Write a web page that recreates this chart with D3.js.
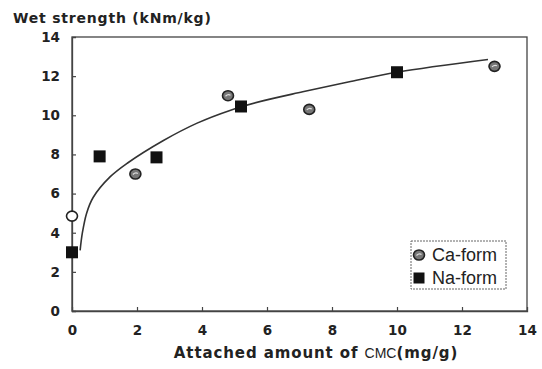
<!DOCTYPE html>
<html>
<head>
<meta charset="utf-8">
<script src="https://cdn.jsdelivr.net/npm/d3@7/dist/d3.min.js"></script>
<style>
  html, body { margin: 0; padding: 0; background: #fff; }
  svg { display: block; }
</style>
</head>
<body>
<svg id="chart" width="542" height="369"></svg>
<script>
// Wet strength vs. attached CMC, two counter-ion forms plus a trend curve
const xTicks = [0, 2, 4, 6, 8, 10, 12, 14];
const yTicks = [0, 2, 4, 6, 8, 10, 12, 14];

const caX = [0, 1.95, 4.8, 7.3, 13.0];
const caY = [4.85, 7.0, 11.0, 10.3, 12.5];
const caOpen = [true, false, false, false, false];

const naX = [0, 0.85, 2.6, 5.2, 10.0];
const naY = [3.0, 7.9, 7.85, 10.45, 12.2];

// trend curve traced point by point
const fitX = [0.25, 0.32, 0.45, 0.65, 1.17, 1.7, 2.8, 3.85, 4.86, 5.9, 7.1, 8.5, 10.0, 12.8];
const fitY = [3.1, 4.0, 5.0, 5.8, 6.85, 7.55, 8.7, 9.6, 10.25, 10.75, 11.2, 11.7, 12.2, 12.85];

const legendLabels = ["Ca-form", "Na-form"];

const svg = d3.select("#chart");
const m = { left: 72, right: 527, top: 37, bottom: 311 };

const x = d3.scaleLinear().domain([0, 14]).range([m.left, m.right]);
const y = d3.scaleLinear().domain([0, 14]).range([m.bottom, m.top]);

const ink = "#222";
const labelFont = "'DejaVu Sans', sans-serif";

// frame
svg.append("rect")
  .attr("x", m.left).attr("y", m.top)
  .attr("width", m.right - m.left).attr("height", m.bottom - m.top)
  .attr("fill", "none").attr("stroke", "#444").attr("stroke-width", 1.3);

// axes with inward ticks
const yAxis = d3.axisLeft(y).tickValues(yTicks).tickSize(-4).tickPadding(12).tickFormat(d3.format("d"));
const xAxis = d3.axisBottom(x).tickValues(xTicks).tickSize(-4).tickPadding(14).tickFormat(d3.format("d"));

const gy = svg.append("g").attr("transform", `translate(${m.left},0)`).call(yAxis);
const gx = svg.append("g").attr("transform", `translate(0,${m.bottom})`).call(xAxis);
[gx, gy].forEach(g => {
  g.select(".domain").attr("stroke", "#444").attr("stroke-width", 1.3);
  g.selectAll(".tick line").attr("stroke", "#444").attr("stroke-width", 1.2);
  g.selectAll(".tick text")
    .attr("fill", ink)
    .style("font-family", labelFont)
    .style("font-weight", "bold")
    .style("font-size", "13.5px");
});
gy.selectAll(".tick").filter(d => d === 0 || d === 14).select("line").remove();
gx.selectAll(".tick").filter(d => d === 0 || d === 14).select("line").remove();

// trend curve
const fit = fitX.map((v, i) => [v, fitY[i]]);
svg.append("path")
  .datum(fit)
  .attr("fill", "none")
  .attr("stroke", "#333")
  .attr("stroke-width", 1.6)
  .attr("d", d3.line().x(d => x(d[0])).y(d => y(d[1])).curve(d3.curveCatmullRom.alpha(0.5)));

// Na-form squares
const sq = 12;
svg.append("g").selectAll("rect")
  .data(naX.map((v, i) => [v, naY[i]]))
  .join("rect")
  .attr("x", d => x(d[0]) - sq / 2)
  .attr("y", d => y(d[1]) - sq / 2)
  .attr("width", sq).attr("height", sq)
  .attr("fill", "#111");

// Ca-form circles
function caMarker(g, cx, cy, open) {
  g.append("ellipse")
    .attr("cx", cx).attr("cy", cy).attr("rx", 5.5).attr("ry", 5)
    .attr("fill", open ? "#fff" : "#777")
    .attr("stroke", "#222").attr("stroke-width", 1.6);
  if (!open) {
    g.append("path")
      .attr("d", `M${cx - 2.5},${cy + 0.5} Q${cx},${cy - 2} ${cx + 2.5},${cy - 0.5}`)
      .attr("fill", "none").attr("stroke", "#ddd").attr("stroke-width", 1.2);
  }
}
const caG = svg.append("g");
caX.forEach((v, i) => caMarker(caG, x(v), y(caY[i]), caOpen[i]));

// legend
const lg = svg.append("g");
lg.append("rect")
  .attr("x", 411).attr("y", 241).attr("width", 95).attr("height", 48)
  .attr("fill", "#fff").attr("stroke", "#666").attr("stroke-width", 1)
  .attr("stroke-dasharray", "2,1");
caMarker(lg, 419, 255, false);
lg.append("rect").attr("x", 413.5).attr("y", 272.5).attr("width", 11).attr("height", 11).attr("fill", "#111");
legendLabels.forEach((t, i) => {
  lg.append("text")
    .attr("x", 432).attr("y", 261 + i * 23)
    .attr("fill", ink)
    .style("font-family", "'Liberation Sans', Arial, sans-serif")
    .style("font-size", "18px")
    .text(t);
});

// axis titles
svg.append("text")
  .attr("x", 13).attr("y", 23)
  .attr("fill", ink)
  .style("font-family", labelFont).style("font-weight", "bold").style("font-size", "14px")
  .style("letter-spacing", "0.8px")
  .text("Wet strength (kNm/kg)");

const xt = svg.append("text")
  .attr("x", 316).attr("y", 358).attr("text-anchor", "middle")
  .attr("fill", ink)
  .style("font-family", labelFont).style("font-weight", "bold").style("font-size", "15px")
  .style("letter-spacing", "0.9px");
xt.append("tspan").text("Attached amount of ");
xt.append("tspan").style("font-weight", "normal").style("font-family", "'Liberation Sans', Arial, sans-serif").style("font-size", "14px").style("letter-spacing", "0px").text("CMC");
xt.append("tspan").text("(mg/g)");
</script>
</body>
</html>
